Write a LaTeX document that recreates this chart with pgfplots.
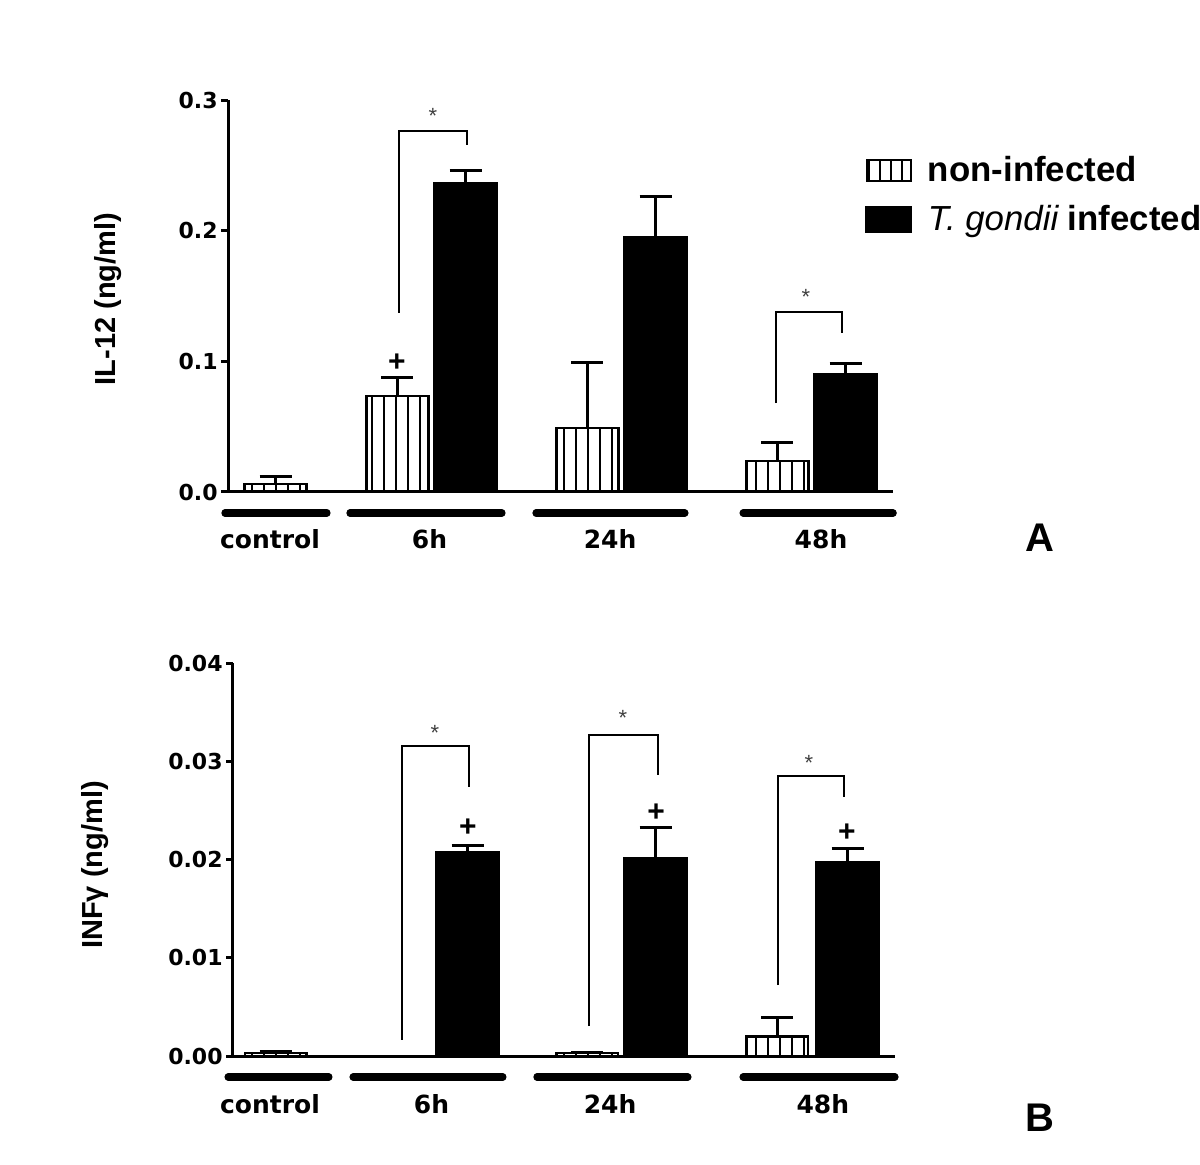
\documentclass[border=0pt]{standalone}
\usepackage{pgfplots}
\pgfplotsset{compat=1.18}
\usepackage{fontspec}
\setmainfont{Liberation Sans}
\newfontfamily\dvs{DejaVu Sans}
\usetikzlibrary{patterns.meta}

\tikzset{hatch/.style={pattern={Lines[angle=90,distance=6pt,line width=1pt]}, pattern color=black}}

\pgfplotsset{
  panel/.style={
    scale only axis, anchor=south west,
    axis lines=left, axis line style={-, line width=1.5pt},
    xtick=\empty, ymin=0, scaled y ticks=false,
    tick align=outside, major tick length=3.5pt,
    ytick style={line width=1.5pt, black},
    yticklabel style={font=\dvs\bfseries\fontsize{11}{11}\selectfont,
      /pgf/number format/assume math mode=true,
      /pgf/number format/fixed, /pgf/number format/zerofill, inner sep=1.5pt},
    ylabel style={font=\bfseries\fontsize{14.5}{14.5}\selectfont, anchor=center},
    clip=false,
  },
  nonbar/.style={ybar, bar shift=0pt, bar width=0.326, draw=black, line width=1.25pt, hatch, mark=none,
    legend image code/.code={\draw[line width=1pt, pattern={Lines[angle=90,distance=5.5pt,line width=1pt]}] (0pt,-5.25pt) rectangle (22pt,5.25pt);},
    error bars/.cd, y dir=plus, y explicit,
    error bar style={line width=1.5pt},
    error mark options={rotate=90, mark size=8pt, line width=1.5pt}},
  infbar/.style={ybar, bar shift=0pt, bar width=0.326, draw=black, fill=black, line width=1.25pt, mark=none,
    legend image code/.code={\draw[fill=black] (0pt,-6pt) rectangle (22pt,6pt);},
    error bars/.cd, y dir=plus, y explicit,
    error bar style={line width=1.5pt},
    error mark options={rotate=90, mark size=8pt, line width=1.5pt}},
}
\tikzset{brack/.style={line width=1pt},
  star/.style={font=\fontsize{11}{11}\selectfont, text=black!75},
  plus/.style={font=\bfseries\fontsize{15}{15}\selectfont, inner sep=0pt},
  grpline/.style={line width=3.6pt, line cap=round},
  catlab/.style={anchor=base, font=\dvs\bfseries\fontsize{12.5}{12.5}\selectfont}}
\newcommand{\grp}[4]{%
  \draw[grpline] ([yshift=-10.5pt]axis cs:#1,0) -- ([yshift=-10.5pt]axis cs:#2,0);
  \node[catlab] at ([yshift=-28.5pt]axis cs:#3,0) {#4};}

\begin{document}
\begin{tikzpicture}
\useasboundingbox (0,0) rectangle (600pt,582pt);

% ---------------- Panel A
\begin{axis}[panel, at={(114pt,336pt)}, width=332.5pt, height=196pt,
  xmin=-0.071, xmax=3.429, ymax=0.3, ytick={0,0.1,0.2,0.3},
  yticklabel style={/pgf/number format/precision=1},
  ylabel={IL-12 (ng/ml)},
  ylabel style={at={(rel axis cs:-0.180,0.492)}},
  legend style={at={(rel axis cs:0.958,0.868)}, anchor=north west, draw=none, fill=none,
    font=\bfseries\fontsize{17.4}{20}\selectfont, row sep=6.5pt, column sep=6pt, inner sep=0pt},
  legend cell align=left]
\addplot[nonbar] coordinates {
  (0.18,0.0061) +- (0,0.0054)
  (0.82,0.0735) +- (0,0.0145)
  (1.82,0.0490) +- (0,0.0500)
  (2.82,0.0237) +- (0,0.0138)
};
\addlegendentry{non-infected}
\addplot[infbar] coordinates {
  (1.18,0.2364) +- (0,0.0100)
  (2.18,0.1950) +- (0,0.0310)
  (3.18,0.0903) +- (0,0.0084)
};
\addlegendentry{{\mdseries\itshape T. gondii} infected}
\draw[brack] (axis cs:0.829,0.137) -- (axis cs:0.829,0.276) -- (axis cs:1.187,0.276) -- (axis cs:1.187,0.2655);
\node[star] at (axis cs:1.008,0.288) {*};
\draw[brack] (axis cs:2.813,0.068) -- (axis cs:2.813,0.1377) -- (axis cs:3.161,0.1377) -- (axis cs:3.161,0.1217);
\node[star] at (axis cs:2.971,0.149) {*};
\node[plus] at (axis cs:0.818,0.0987) {+};
\grp{-0.087}{0.45}{0.15}{control}
\grp{0.571}{1.371}{0.99}{6h}
\grp{1.55}{2.334}{1.94}{24h}
\grp{2.64}{3.43}{3.05}{48h}
\end{axis}

% ---------------- Panel B
\begin{axis}[panel, at={(116.5pt,54pt)}, width=331pt, height=196.5pt,
  xmin=-0.045, xmax=3.44, ymax=0.04, ytick={0,0.01,0.02,0.03,0.04},
  yticklabel style={/pgf/number format/precision=2},
  ylabel={INFγ (ng/ml)},
  ylabel style={at={(rel axis cs:-0.208,0.486)}}]
\addplot[nonbar] coordinates {
  (0.18,0.0003) +- (0,0.0002)
  (1.82,0.0003) +- (0,0.0001)
  (2.82,0.0020) +- (0,0.0019)
};
\addplot[infbar] coordinates {
  (1.19,0.0207) +- (0,0.0007)
  (2.18,0.0201) +- (0,0.0032)
  (3.19,0.0197) +- (0,0.0014)
};
\draw[brack] (axis cs:0.845,0.00163) -- (axis cs:0.845,0.03154) -- (axis cs:1.197,0.03154) -- (axis cs:1.197,0.02737);
\node[star] at (axis cs:1.018,0.03286) {*};
\draw[brack] (axis cs:1.829,0.00305) -- (axis cs:1.829,0.03265) -- (axis cs:2.192,0.03265) -- (axis cs:2.192,0.02859);
\node[star] at (axis cs:2.008,0.03438) {*};
\draw[brack] (axis cs:2.824,0.00722) -- (axis cs:2.824,0.02848) -- (axis cs:3.171,0.02848) -- (axis cs:3.171,0.02635);
\node[star] at (axis cs:2.987,0.0298) {*};
\node[plus] at (axis cs:1.192,0.0232) {+};
\node[plus] at (axis cs:2.182,0.02472) {+};
\node[plus] at (axis cs:3.187,0.02269) {+};
\grp{-0.071}{0.46}{0.15}{control}
\grp{0.587}{1.376}{1.0}{6h}
\grp{1.555}{2.35}{1.94}{24h}
\grp{2.64}{3.44}{3.06}{48h}
\end{axis}

\node[font=\bfseries\fontsize{20}{20}\selectfont] at (520pt,313pt) {A};
\node[font=\bfseries\fontsize{20}{20}\selectfont] at (520pt,23pt) {B};
\end{tikzpicture}
\end{document}
